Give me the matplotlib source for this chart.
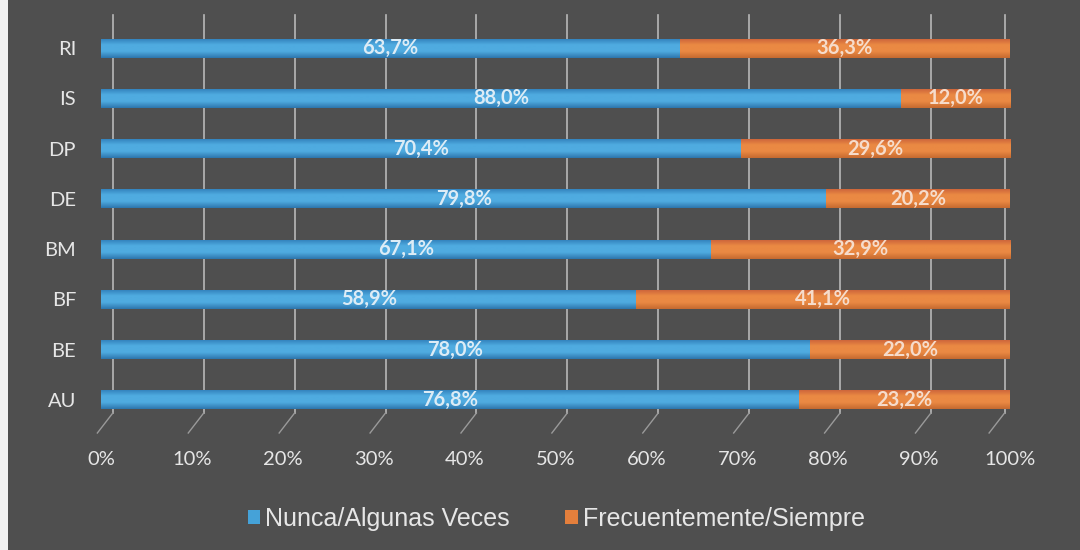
import matplotlib
matplotlib.use("Agg")
import matplotlib.pyplot as plt
import numpy as np
from matplotlib.colors import LinearSegmentedColormap
from matplotlib.patches import Rectangle

# %% data
cats = ['AU', 'BE', 'BF', 'BM', 'DE', 'DP', 'IS', 'RI']
nunca = [76.8, 78.0, 58.9, 67.1, 79.8, 70.4, 88.0, 63.7]
frec = [23.2, 22.0, 41.1, 32.9, 20.2, 29.6, 12.0, 36.3]
xticks = [0, 10, 20, 30, 40, 50, 60, 70, 80, 90, 100]
series_names = ['Nunca/Algunas Veces', 'Frecuentemente/Siempre']

bg = '#4f4f4f'
blue = '#45a2d8'
orange = '#e47f3c'
txt = '#e6e6e6'

fig = plt.figure(figsize=(10.8, 5.5), dpi=100, facecolor=bg)
ax = fig.add_axes([101 / 1080, 1 - 425 / 550, 909 / 1080, 402 / 550])
ax.set_facecolor('none')

# white photo edge on the left
fig.patches.append(Rectangle((0, 0), 8 / 1080, 1, transform=fig.transFigure,
                             facecolor='#f2f2f2', edgecolor='none', zorder=0))

# back-wall gridlines with a small floor diagonal
ymin, ymax = -0.5, 7.5
ppy = 402 / 8.0  # pixels per category
for p in xticks:
    gx = p + 1.3 if p < 100 else 99.4
    ytop = ymax + 8 / ppy
    ybot = ymin + 12 / ppy
    ax.plot([gx, gx], [ybot, ytop], color='#b8b8b8', lw=1.2, clip_on=False, zorder=1)
    ax.plot([gx, gx - 1.7], [ybot, ybot - 20 / ppy], color='#9a9a9a', lw=1.0,
            clip_on=False, zorder=1)

# cylinder-like bars via gradient fill
def cmap_for(c_top, c_mid, c_bot):
    return LinearSegmentedColormap.from_list('g', [c_bot, c_mid, c_mid, c_top])

blue_cmap = cmap_for('#2f7db8', '#4fabe0', '#2d76ad')
orange_cmap = cmap_for('#c9603a', '#ea8943', '#c56a30')
grad = np.linspace(0, 1, 64).reshape(-1, 1)

h = 0.38
y = np.arange(len(cats))
left_bars = ax.barh(y, nunca, height=h, color=blue, zorder=2)
right_bars = ax.barh(y, frec, left=nunca, height=h, color=orange, zorder=2)
for bars, cm in [(left_bars, blue_cmap), (right_bars, orange_cmap)]:
    for b in bars:
        x0, y0 = b.get_x(), b.get_y()
        im = ax.imshow(grad, extent=(x0, x0 + b.get_width(), y0, y0 + b.get_height()),
                       origin='lower', aspect='auto', cmap=cm, zorder=3)
        im.set_clip_path(b)

# value labels
for i in range(len(cats)):
    ax.text(nunca[i] / 2, i, f"{nunca[i]:.1f}".replace('.', ',') + '%',
            ha='center', va='center', color='#dcecf6', fontsize=14.5,
            fontweight='bold', family='Lato', zorder=4)
    ax.text(nunca[i] + frec[i] / 2, i, f"{frec[i]:.1f}".replace('.', ',') + '%',
            ha='center', va='center', color='#f6dccb', fontsize=14.5,
            fontweight='bold', family='Lato', zorder=4)

ax.set_xlim(0, 100)
ax.set_ylim(ymin, ymax)
ax.set_yticks(y)
ax.set_yticklabels(cats, family='Lato', fontsize=14.5, color=txt)
ax.set_xticks(xticks)
ax.set_xticklabels([f"{v}%" for v in xticks], family='Lato', fontsize=14.5, color=txt)
ax.tick_params(axis='both', length=0)
ax.tick_params(axis='y', pad=18)
ax.tick_params(axis='x', pad=19)
for s in ax.spines.values():
    s.set_visible(False)

# legend
handles = [Rectangle((0, 0), 1, 1, facecolor=blue, edgecolor='none'),
           Rectangle((0, 0), 1, 1, facecolor=orange, edgecolor='none')]
leg = fig.legend(handles, series_names, loc='center', bbox_to_anchor=(0.515, 1 - 519 / 550),
                 ncol=2, frameon=False, handlelength=0.5, handleheight=0.5,
                 handletextpad=0.2, columnspacing=2.2,
                 prop={'family': 'Liberation Sans', 'size': 18})
for t in leg.get_texts():
    t.set_color(txt)

fig.savefig('out.png', dpi=100, facecolor=bg)
